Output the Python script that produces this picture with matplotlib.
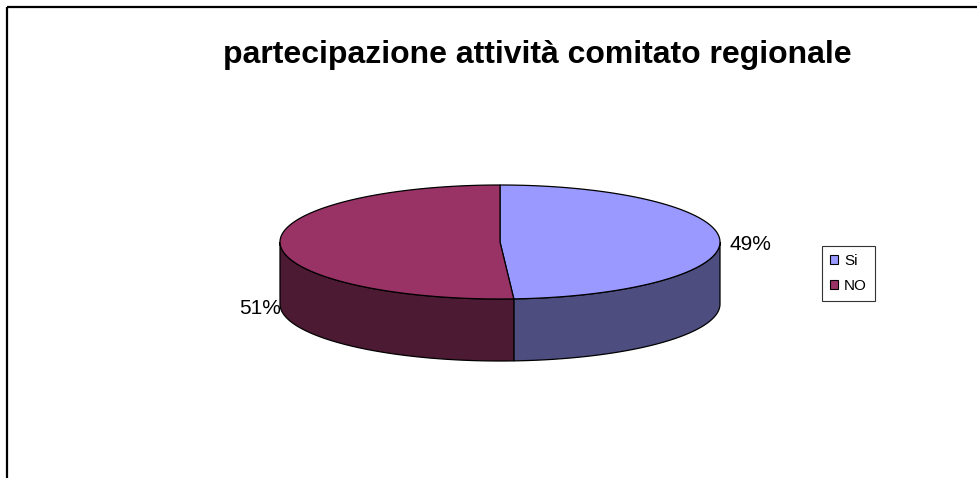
import numpy as np
import matplotlib
matplotlib.use("Agg")
import matplotlib.pyplot as plt
from matplotlib.patches import Polygon, Patch

plt.rcParams['font.family'] = ['Liberation Sans', 'DejaVu Sans']

title = "partecipazione attività comitato regionale"
categories = ["Si", "NO"]
values = [49, 51]
top_colors = ["#9999FF", "#993366"]
side_colors = ["#4D4D80", "#4D1A33"]

W, H = 978, 478
fig = plt.figure(figsize=(W / 100, H / 100), dpi=100)
ax = fig.add_axes([0, 0, 1, 1])
ax.set_xlim(0, W)
ax.set_ylim(H, 0)
ax.axis('off')

# frame lines (top and left)
ax.plot([7, W], [7, 7], color='black', lw=1.6, solid_capstyle='butt')
ax.plot([7, 7], [7, H], color='black', lw=1.6, solid_capstyle='butt')

cx, cy, rx, ry, depth = 500, 242, 220, 57, 62

def pt(t, dy=0):
    return cx + rx * np.cos(np.radians(t)), cy - ry * np.sin(np.radians(t)) + dy

total = float(sum(values))
start = 90.0
spans = []
for v in values:
    ang = 360.0 * v / total
    spans.append((start - ang, start))
    start -= ang

# sides (front half: angles 180..360)
for (a0, a1), sc in zip(spans, side_colors):
    for off in (0, 360, -360):
        lo, hi = a0 + off, a1 + off
        s0, s1 = max(lo, 180), min(hi, 360)
        if s1 > s0:
            ts = np.linspace(s0, s1, 100)
            top = [pt(t) for t in ts]
            bot = [pt(t, depth) for t in ts[::-1]]
            ax.add_patch(Polygon(top + bot, closed=True, facecolor=sc,
                                 edgecolor='black', lw=0.9, zorder=2))

# tops
for (a0, a1), tc in zip(spans, top_colors):
    ts = np.linspace(a0, a1, 200)
    poly = [(cx, cy)] + [pt(t) for t in ts]
    ax.add_patch(Polygon(poly, closed=True, facecolor=tc,
                         edgecolor='black', lw=0.9, zorder=3))

# percentage labels
pcts = [f"{round(100 * v / total)}%" for v in values]
ax.text(729, 244, pcts[0], fontsize=15, ha='left', va='center')
ax.text(281, 309, pcts[1], fontsize=15, ha='right', va='center')

ax.text(537, 55, title, fontsize=23, fontweight='bold', ha='center', va='center')

handles = [Patch(facecolor=c, edgecolor='black', lw=0.8) for c in top_colors]
leg = ax.legend(handles, categories, loc='upper left',
                bbox_to_anchor=(822 / W, 1 - 246 / H), frameon=True,
                fancybox=False, edgecolor='black', fontsize=11,
                handlelength=0.55, handleheight=0.55, handletextpad=0.4,
                borderpad=0.5, labelspacing=0.75, borderaxespad=0)
leg.get_frame().set_linewidth(0.8)

fig.savefig("out.png", dpi=100, facecolor='white')
